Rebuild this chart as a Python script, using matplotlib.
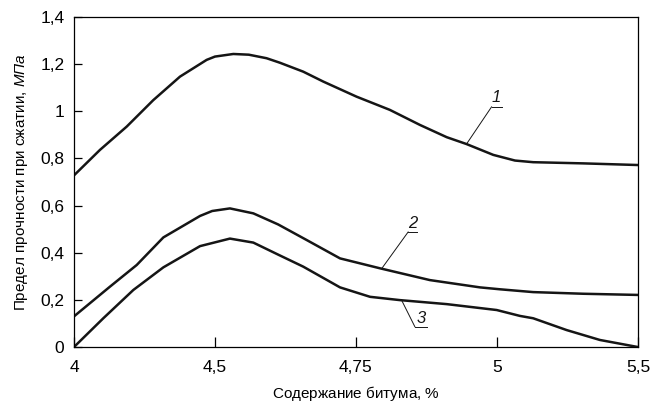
import numpy as np
import matplotlib
matplotlib.use("Agg")
import matplotlib.pyplot as plt

# Bitumen content ticks (drawn equally spaced in the source chart)
tick_values = [4.0, 4.5, 4.75, 5.0, 5.5]
tick_labels = ["4", "4,5", "4,75", "5", "5,5"]

# Curve 1
x1 = [4.0, 4.092, 4.187, 4.281, 4.376, 4.4705, 4.5, 4.5325, 4.56, 4.5915, 4.615, 4.6565,
      4.692, 4.751, 4.81, 4.8635, 4.911, 4.946, 4.9935, 5.064, 5.1285, 5.306, 5.5]
y1 = [0.728, 0.836, 0.935, 1.047, 1.147, 1.218, 1.232, 1.243, 1.240, 1.225, 1.206, 1.168,
      1.126, 1.062, 1.006, 0.942, 0.890, 0.861, 0.815, 0.791, 0.784, 0.779, 0.772]

# Curve 2
x2 = [4.0, 4.1275, 4.2225, 4.317, 4.447, 4.49, 4.5265, 4.568, 4.612, 4.6625, 4.72175,
      4.7925, 4.881, 4.97, 5.01, 5.1285, 5.306, 5.5]
y2 = [0.130, 0.256, 0.348, 0.465, 0.556, 0.577, 0.588, 0.567, 0.520, 0.454, 0.376,
      0.334, 0.284, 0.253, 0.245, 0.233, 0.226, 0.221]

# Curve 3
x3 = [4.0, 4.104, 4.2105, 4.317, 4.447, 4.5265, 4.568, 4.612, 4.6565, 4.72175, 4.775,
      4.828, 4.911, 4.9995, 5.0815, 5.1285, 5.247, 5.365, 5.5]
y3 = [0.0, 0.122, 0.242, 0.338, 0.428, 0.460, 0.443, 0.392, 0.341, 0.253, 0.213,
      0.199, 0.182, 0.157, 0.132, 0.122, 0.072, 0.030, 0.0]

y_ticks = [0, 0.2, 0.4, 0.6, 0.8, 1.0, 1.2, 1.4]
y_tick_labels = ["0", "0,2", "0,4", "0,6", "0,8", "1", "1,2", "1,4"]

curves = [(x1, y1, "1"), (x2, y2, "2"), (x3, y3, "3")]
# where each leader line touches its curve (bitumen %)
leader_x = {"1": 4.946, "2": 4.7955, "3": 4.831}
# underline of each label in axes fraction: (left, right, height)
label_pos = {"1": (0.7406, 0.7583, 0.728),
             "2": (0.5927, 0.6076, 0.349),
             "3": (0.6046, 0.6254, 0.061)}

plt.rcParams['font.family'] = ['Liberation Sans', 'DejaVu Sans']
plt.rcParams['mathtext.fontset'] = 'custom'
plt.rcParams['mathtext.it'] = 'Liberation Sans:italic'
plt.rcParams['mathtext.rm'] = 'Liberation Sans'

idx = np.arange(len(tick_values), dtype=float)


def fwd(v):
    return np.interp(v, tick_values, idx)


def inv(v):
    return np.interp(v, idx, tick_values)


fig, ax = plt.subplots(figsize=(6.57, 4.04), dpi=100)
fig.subplots_adjust(left=0.1126, right=0.971, top=0.958, bottom=0.141)
ax.set_xscale('function', functions=(fwd, inv))

line_color = "#151515"
for xs, ys, name in curves:
    ax.plot(xs, ys, color=line_color, lw=1.8, solid_joinstyle='round', solid_capstyle='round')

    lx = leader_x[name]
    ly = np.interp(lx, xs, ys)
    left, right, h = label_pos[name]
    ax.annotate('', xy=(lx, ly), xycoords='data', xytext=(left, h), textcoords='axes fraction',
                arrowprops=dict(arrowstyle='-', lw=0.7, color=line_color, shrinkA=0, shrinkB=0))
    ax.plot([left, right], [h, h], color=line_color, lw=0.7, transform=ax.transAxes)
    ax.text((left + right) / 2, h + 0.004, name, transform=ax.transAxes, ha='center', va='bottom',
            fontsize=12, style='italic', color=line_color)

ax.set_xlim(4.0, 5.5)
ax.set_ylim(0, 1.4)
ax.set_xticks(tick_values)
ax.set_xticklabels(tick_labels)
ax.set_yticks(y_ticks)
ax.set_yticklabels(y_tick_labels)
ax.tick_params(axis='x', direction='in', length=7, width=0.9, pad=9, labelsize=12.5)
ax.tick_params(axis='y', direction='in', length=6, width=0.9, pad=7, labelsize=12.5)
for s in ax.spines.values():
    s.set_linewidth(0.9)

ax.set_xlabel("Содержание битума, $\\mathit{\\%}$", fontsize=11, labelpad=6.5)
ax.set_ylabel("Предел прочности при сжатии, $\\mathit{МПа}$", fontsize=11, labelpad=7)

fig.savefig("out.png", dpi=100)
